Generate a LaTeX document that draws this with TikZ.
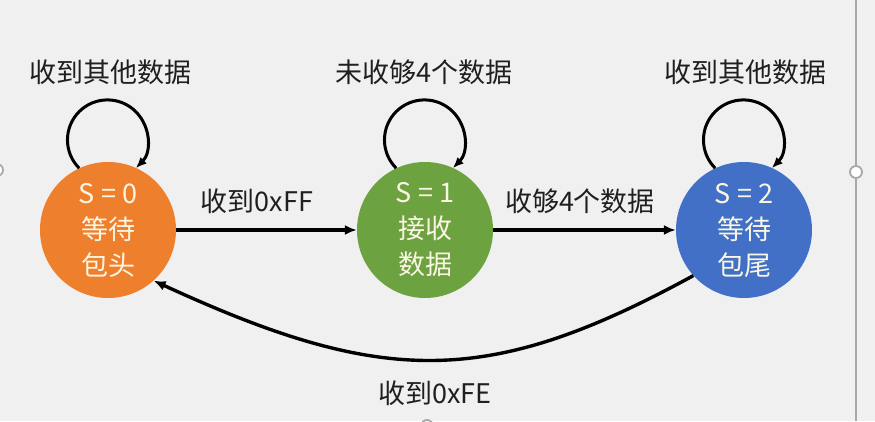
\documentclass[tikz,border=0pt]{standalone}
\usepackage{fontspec}
\setmainfont{Noto Sans CJK SC}
\usetikzlibrary{arrows.meta}
\definecolor{bgc}{HTML}{F0F0F0}
\definecolor{orangec}{HTML}{EE7F2D}
\definecolor{greenc}{HTML}{6CA23F}
\definecolor{bluec}{HTML}{4170C6}
\definecolor{txtc}{HTML}{FBF6E4}
\definecolor{handlec}{HTML}{A8A8A8}
\tikzset{
  state/.style={circle, minimum size=136pt, inner sep=0pt, text=txtc,
    font=\fontsize{27}{36}\selectfont, align=center},
  lbl/.style={font=\fontsize{27}{30}\selectfont, text=black!88, inner sep=0pt},
  conn/.style={line width=3.4pt, -{Latex[length=12pt,width=10pt]}},
  loopc/.style={line width=3pt, -{Latex[length=11pt,width=9pt]}},
  handle/.style={draw=handlec, fill=white, line width=1.8pt},
}
\begin{document}
\begin{tikzpicture}[x=1pt,y=1pt]
\useasboundingbox (0,0) rectangle (875,421);
\fill[bgc] (0,0) rectangle (875,421);
% selection frame
\draw[handlec, line width=1.6pt] (856,0) -- (856,421);
\node[handle, circle, minimum size=12pt, inner sep=0pt] (h1) at (856,249) {};
\node[handle, circle, minimum size=12pt, inner sep=0pt] (h2) at (-3,251) {};
\node[handle, circle, minimum size=12pt, inner sep=0pt] (h3) at (427,-5) {};
% states
\node[state, fill=orangec] (s0) at (108,191) {S = 0\\等待\\包头};
\node[state, fill=greenc] (s1) at (425,191) {S = 1\\接收\\数据};
\node[state, fill=bluec] (s2) at (744,191) {S = 2\\等待\\包尾};
% transitions
\draw[conn] (s0.east) -- (s1.west);
\draw[conn] (s1.east) -- (s2.west);
\draw[conn] (s2.222) .. controls +(-205,-112) and +(230,-106) .. (s0.312);
% self loops
\draw[loopc] (s0.115) arc[start angle=225, end angle=-45, radius=40];
\draw[loopc] (s1.115) arc[start angle=225, end angle=-45, radius=40];
\draw[loopc] (s2.115) arc[start angle=225, end angle=-45, radius=40];
% labels
\node[lbl] (l01) at (257,220) {收到0xFF};
\node[lbl] (l12) at (580,220) {收够4个数据};
\node[lbl] (l20) at (435,28) {收到0xFE};
\node[lbl] (ll0) at (110,349) {收到其他数据};
\node[lbl] (ll1) at (424,349) {未收够4个数据};
\node[lbl] (ll2) at (745,349) {收到其他数据};
\end{tikzpicture}
\end{document}
